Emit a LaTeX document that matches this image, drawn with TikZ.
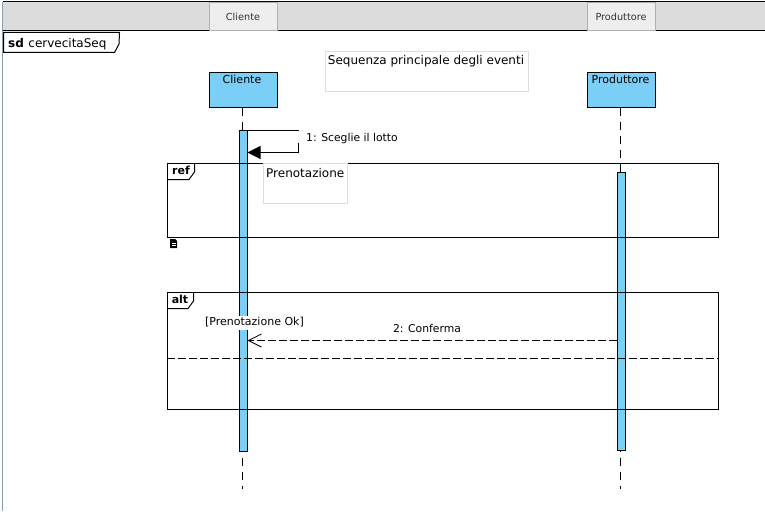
\documentclass[tikz,border=0pt]{standalone}
\usepackage{fontspec}
\setmainfont{DejaVu Sans}
\usepackage{tikz}
\usetikzlibrary{arrows.meta,positioning}
\definecolor{SeqBlue}{HTML}{7BCEF5}
\definecolor{SeqBand}{HTML}{DCDCDC}
\definecolor{SeqTab}{HTML}{EEEEEE}
\definecolor{SeqTabLine}{HTML}{B0B0B0}
\definecolor{SeqNote}{HTML}{DDDDDD}
\definecolor{SeqEdge}{HTML}{8C9BB0}
\definecolor{SeqInk}{HTML}{333333}

\begin{document}
\begin{tikzpicture}[x=1pt,y=-1pt,>=Latex,font=\fontsize{11}{13}\selectfont]
  \tikzstyle{tabbox}=[draw=SeqTabLine, line width=1pt, fill=SeqTab, minimum width=68pt, minimum height=28pt, inner sep=0pt, text=SeqInk, font=\fontsize{9.7}{11}\selectfont]
  \tikzstyle{headbox}=[draw=black, line width=1pt, fill=SeqBlue, minimum width=68pt, minimum height=35pt, inner sep=0pt]
  \tikzstyle{headtext}=[anchor=north, inner sep=0pt, font=\fontsize{11}{13}\selectfont]
  \tikzstyle{bar}=[draw=black, line width=1pt, fill=SeqBlue, minimum width=8pt, inner sep=0pt]
  \tikzstyle{frame}=[draw=black, line width=1pt, minimum width=551pt, inner sep=0pt]
  \tikzstyle{notebox}=[draw=SeqNote, line width=1pt, fill=white, inner sep=0pt]
  \tikzstyle{lifeline}=[line width=1pt, dash pattern=on 8pt off 6pt]
  \tikzstyle{label}=[inner sep=0pt, font=\fontsize{10.8}{13}\selectfont]
  \useasboundingbox (0,0) rectangle (765,511);
  % window band
  \draw[SeqEdge, line width=1pt] (2.5,2) -- (2.5,511);
  \node[fill=SeqBand, minimum width=762pt, minimum height=29pt, inner sep=0pt] (band) at (384,16) {};
  \draw[black, line width=1pt] (band.north west) -- (band.north east);
  \draw[black, line width=1pt] (band.south west) -- (band.south east);
  \node[tabbox] (tabc) at (243,16.5) {Cliente};
  \node[tabbox] (tabp) at (621,16.5) {Produttore};
  % sd tab
  \coordinate (sdcut) at (119,44);
  \draw[black, line width=1pt, fill=white] (3.5,32.5) -- (119.5,32.5) -- (sdcut) -- (114.5,52.5) -- (3.5,52.5) -- cycle;
  \node[anchor=base west, inner sep=0pt, font=\fontsize{12}{14}\selectfont] (sd) at (8,47.5) {\textbf{sd}\hspace{4.5pt}cervecitaSeq};
  % title note
  \node[notebox, minimum width=203pt, minimum height=39pt] (title) at (426.5,71.5) {};
  \node[anchor=north, inner sep=0pt, font=\fontsize{12}{14}\selectfont] (titletext) at (426,55.5) {Sequenza principale degli eventi};
  % lifelines
  \node[headbox] (cli) at (243,89.5) {};
  \node[headtext] at (242,74.5) {Cliente};
  \node[headbox] (pro) at (621,89.5) {};
  \node[headtext] at (620.5,74.5) {Produttore};
  \coordinate (cliend) at (242.5,489);
  \coordinate (proend) at (620.5,489);
  \draw[lifeline] (242.5,107.5) -- (cliend);
  \draw[lifeline] (620.5,107.5) -- (proend);
  % activations
  \node[bar, minimum height=321pt] (actc) at (243,290.5) {};
  \node[bar, minimum height=278pt] (actp) at (621,311) {};
  % ref frame
  \node[frame, minimum height=74pt] (ref) at (443,200) {};
  \draw[black, line width=1pt] (167.5,179.5) -- (189,179.5) -- (194.5,172) -- (194.5,163);
  \node[anchor=base, inner sep=0pt, font=\fontsize{11}{13}\selectfont\bfseries] (reftext) at (181,174.5) {ref};
  \node[notebox, minimum width=84pt, minimum height=40pt] (pren) at (305.5,183.5) {};
  \node[anchor=north west, inner sep=0pt, font=\fontsize{12}{14}\selectfont] (prentext) at (266,168) {Prenotazione};
  \fill[black] (170,239) -- (175,239) -- (177,241) -- (177,248) -- (170,248) -- cycle;
  \fill[white] (171.5,243) rectangle (175.5,243.8);
  \fill[white] (171.5,245) rectangle (175.5,245.8);
  % alt frame
  \node[frame, minimum height=117pt] (alt) at (443,350.5) {};
  \draw[black, line width=1pt] (167.5,308.5) -- (188,308.5) -- (193.5,301) -- (193.5,292);
  \node[anchor=base, inner sep=0pt, font=\fontsize{11}{13}\selectfont\bfseries] (alttext) at (180,303.5) {alt};
  \draw[black, line width=1pt, dash pattern=on 8pt off 3pt] (alt.west |- 0,358.5) -- (alt.east |- 0,358.5);
  \node[fill=white, inner sep=0pt, minimum width=100pt, minimum height=14pt, font=\fontsize{11}{13}\selectfont] (guard) at (254.5,322.5) {[Prenotazione Ok]};
  % messages
  \coordinate (selfa) at (298.5,130.5);
  \coordinate (selfb) at (298.5,143);
  \coordinate (selfc) at (298.5,152.5);
  \draw[line width=1pt] (actc.east |- selfa) -- (selfa);
  \draw[-{Triangle[length=13pt,width=13pt]}, line width=1pt] (selfb) -- (selfc) -- (actc.east |- selfc);
  \node[label, anchor=base west] (msga) at (306,141) {1: Sceglie il lotto};
  \coordinate (msgb) at (0,340.5);
  \draw[-{Straight Barb[length=13pt,width=13pt,line width=0.8pt]}, line width=1pt, dash pattern=on 8pt off 3pt] (actp.west |- msgb) -- (actc.east |- msgb);
  \node[label, anchor=base] (msgbtext) at (427,332) {2: Conferma};
\end{tikzpicture}
\end{document}
